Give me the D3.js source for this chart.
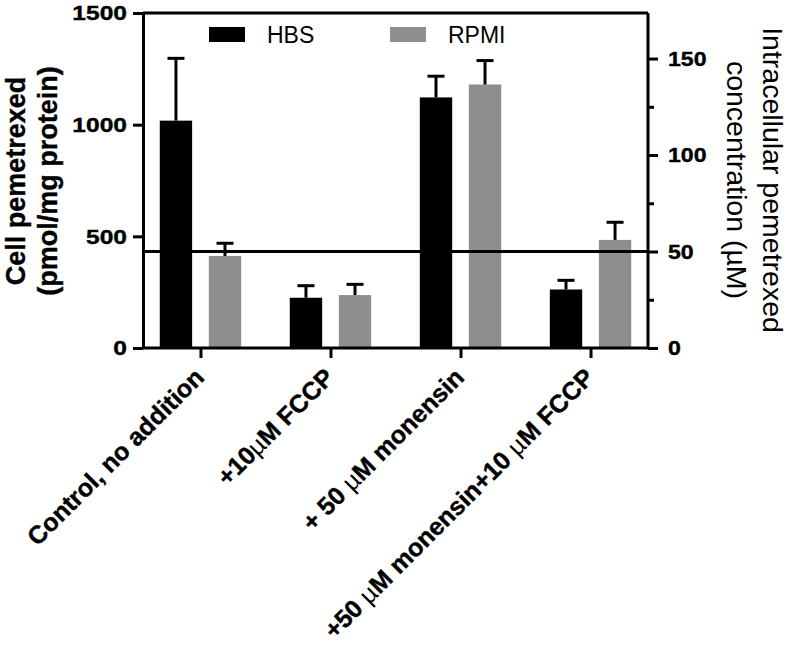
<!DOCTYPE html>
<html><head><meta charset="utf-8">
<script src="https://cdn.jsdelivr.net/npm/d3@7"></script>
<style>
html,body{margin:0;padding:0;background:#fff;}
svg text{font-family:"Liberation Sans",Arial,Helvetica,sans-serif;fill:#000;}
</style></head>
<body>
<svg id="chart" width="789" height="649"></svg>
<script>
const categories = ["Control, no addition", "+10\u00b5M FCCP", "+ 50 \u00b5M monensin", "+50 \u00b5M monensin+10 \u00b5M FCCP"];
const series = ["HBS", "RPMI"];
const hbsMean = [1018, 225, 1122, 262];
const hbsErr  = [279, 54, 95, 41];
const rpmiMean = [412, 237, 1180, 484];
const rpmiErr  = [57, 48, 107, 79];
const leftTicks = [0, 500, 1000, 1500];
const rightTicks = [0, 50, 100, 150];
const rightMinorTicks = [25, 75, 125];
const referenceLine = 50; // µM on right axis
const colors = {HBS: "#000000", RPMI: "#8e8e8e"};

const svg = d3.select("#chart");
const L = 143, R = 648, T = 13, B = 348;

const yL = d3.scaleLinear().domain([0, 1500]).range([B, T]);
const yR = d3.scaleLinear().domain([0, 173.6]).range([B, T]);
const x = d3.scalePoint().domain(categories).range([L, R]).padding(0.442);
const xs = d3.scaleBand().domain(series).range([-40.7, 40.7]).paddingInner(0.34);

const data = [];
categories.forEach((c, i) => {
  data.push({cat: c, s: "HBS", v: hbsMean[i], e: hbsErr[i]});
  data.push({cat: c, s: "RPMI", v: rpmiMean[i], e: rpmiErr[i]});
});

// bars
svg.append("g").selectAll("rect").data(data).join("rect")
  .attr("x", d => x(d.cat) + xs(d.s))
  .attr("width", xs.bandwidth())
  .attr("y", d => yL(d.v))
  .attr("height", d => yL(0) - yL(d.v))
  .attr("fill", d => colors[d.s]);

// error bars (upper)
const eg = svg.append("g").attr("stroke", "#000").attr("stroke-width", 3);
data.forEach(d => {
  const cx = x(d.cat) + xs(d.s) + xs.bandwidth() / 2;
  eg.append("line").attr("x1", cx).attr("x2", cx).attr("y1", yL(d.v)).attr("y2", yL(d.v + d.e));
  eg.append("line").attr("x1", cx - 8.5).attr("x2", cx + 8.5).attr("y1", yL(d.v + d.e)).attr("y2", yL(d.v + d.e));
});

// reference line
svg.append("line").attr("x1", L).attr("x2", R).attr("y1", yR(referenceLine)).attr("y2", yR(referenceLine))
  .attr("stroke", "#000").attr("stroke-width", 3);
// top frame
svg.append("line").attr("x1", L).attr("x2", R).attr("y1", T).attr("y2", T)
  .attr("stroke", "#000").attr("stroke-width", 3);

function styleAxis(g, sx, off) {
  g.selectAll("path.domain").attr("stroke-width", 3).attr("stroke", "#000");
  g.selectAll(".tick line").attr("stroke-width", 3).attr("stroke", "#000");
  g.selectAll(".tick text").attr("font-size", 21).attr("font-weight", "bold")
    .attr("font-family", "'Liberation Sans',Arial,sans-serif").attr("fill", "#000")
    .attr("stroke", "#000").attr("stroke-width", 0.4);
  if (sx) g.selectAll(".tick text").attr("x", off / sx).attr("transform", `scale(${sx},1)`);
}

// left axis
const gl = svg.append("g").attr("transform", `translate(${L},0)`)
  .call(d3.axisLeft(yL).tickValues(leftTicks).tickSize(10).tickSizeOuter(0).tickPadding(5).tickFormat(d3.format("d")));
styleAxis(gl, 1.17, -16);

// right axis
const gr = svg.append("g").attr("transform", `translate(${R},0)`)
  .call(d3.axisRight(yR).tickValues(rightTicks).tickSize(10).tickSizeOuter(0).tickPadding(10).tickFormat(d3.format("d")));
styleAxis(gr, 1.1, 20);
gr.selectAll(".domain").attr("d", `M0,${B}V${T}`);
svg.append("g").attr("transform", `translate(${R},0)`)
  .call(d3.axisRight(yR).tickValues(rightMinorTicks).tickSize(6).tickSizeOuter(0).tickFormat(""))
  .call(g => { g.select(".domain").remove(); g.selectAll(".tick line").attr("stroke-width", 3); });

// bottom axis
const gb = svg.append("g").attr("transform", `translate(0,${B})`)
  .call(d3.axisBottom(x).tickSize(10).tickSizeOuter(0).tickFormat(""));
styleAxis(gb);
gb.selectAll(".domain").attr("d", `M${L},0H${R}`);

// x labels
const lab = svg.append("g");
categories.forEach(c => {
  const t = lab.append("text")
    .attr("transform", `translate(${x(c) + 5},${B + 31}) rotate(-45)`)
    .attr("text-anchor", "end").attr("font-size", 25).attr("font-weight", "bold")
    .attr("stroke", "#000").attr("stroke-width", 0.4);
  const parts = c.split("\u00b5");
  parts.forEach((p, i) => {
    if (i > 0) t.append("tspan").attr("font-weight", "normal").attr("stroke-width", 0).text("\u00b5");
    t.append("tspan").text(p);
  });
});

// left title
const lt = svg.append("text").attr("transform", `translate(0,181) rotate(-90)`)
  .attr("text-anchor", "middle").attr("font-size", 27).attr("font-weight", "bold")
  .attr("stroke", "#000").attr("stroke-width", 0.4);
lt.append("tspan").attr("x", 0).attr("y", 25).text("Cell pemetrexed");
lt.append("tspan").attr("x", 0).attr("y", 57).text("(pmol/mg protein)");

// right title
const rt = svg.append("text").attr("transform", `translate(789,180) rotate(90)`)
  .attr("text-anchor", "middle").attr("font-size", 28.5);
rt.append("tspan").attr("x", 0).attr("y", 26).text("Intracellular pemetrexed");
rt.append("tspan").attr("x", 0).attr("y", 62).text("concentration (\u00b5M)");

// legend
const legendX = [209, 390];
series.forEach((s, i) => {
  svg.append("rect").attr("x", legendX[i]).attr("y", 27).attr("width", 36).attr("height", 15).attr("fill", colors[s]);
  svg.append("text").attr("x", legendX[i] + 58).attr("y", 43).attr("font-size", 23).text(s);
});
</script>
</body></html>
